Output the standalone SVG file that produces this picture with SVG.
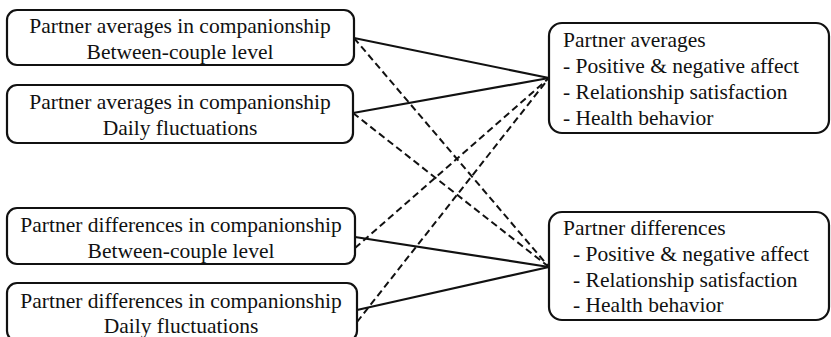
<svg xmlns="http://www.w3.org/2000/svg" width="831" height="337" viewBox="0 0 831 337">
<style>
.box{fill:#fff;stroke:#111;stroke-width:2.2}
.t{font-family:"Liberation Serif","Times New Roman",serif;font-size:21.5px;fill:#111}
.c{text-anchor:middle}
.solid{stroke:#111;stroke-width:2.2;fill:none}
.dash{stroke:#111;stroke-width:2;fill:none;stroke-dasharray:7 4}
</style>
<rect width="831" height="337" fill="#fff"/>
<g id="connectors">
<line class="solid" x1="354" y1="38" x2="549" y2="78"/>
<line class="dash" x1="354" y1="38" x2="549" y2="267"/>
<line class="solid" x1="353" y1="113" x2="549" y2="78"/>
<line class="dash" x1="353" y1="113" x2="549" y2="267"/>
<line class="solid" x1="355" y1="237" x2="549" y2="267"/>
<line class="dash" x1="355" y1="248" x2="549" y2="78"/>
<line class="solid" x1="357" y1="310" x2="549" y2="267"/>
<line class="dash" x1="357" y1="322" x2="549" y2="78"/>
</g>
<g id="n1">
<rect class="box" x="7" y="10" width="347" height="55" rx="10"/>
<text class="t c" x="180" y="33">Partner averages in companionship</text>
<text class="t c" x="180" y="59">Between-couple level</text>
</g>
<g id="n2">
<rect class="box" x="7" y="85" width="346" height="58" rx="10"/>
<text class="t c" x="180" y="109">Partner averages in companionship</text>
<text class="t c" x="180" y="135">Daily fluctuations</text>
</g>
<g id="n3">
<rect class="box" x="7" y="208" width="348" height="56" rx="10"/>
<text class="t c" x="181" y="232">Partner differences in companionship</text>
<text class="t c" x="181" y="258">Between-couple level</text>
</g>
<g id="n4">
<rect class="box" x="7" y="283" width="350" height="58" rx="10"/>
<text class="t c" x="181" y="308">Partner differences in companionship</text>
<text class="t c" x="181" y="333">Daily fluctuations</text>
</g>
<g id="n5">
<rect class="box" x="549" y="23" width="280" height="110" rx="13"/>
<text class="t" x="563" y="47">Partner averages</text>
<text class="t" x="563" y="73">- Positive &amp; negative affect</text>
<text class="t" x="563" y="99">- Relationship satisfaction</text>
<text class="t" x="563" y="125">- Health behavior</text>
</g>
<g id="n6">
<rect class="box" x="549" y="212" width="280" height="108" rx="13"/>
<text class="t" x="563" y="235">Partner differences</text>
<text class="t" x="573" y="261">- Positive &amp; negative affect</text>
<text class="t" x="573" y="287">- Relationship satisfaction</text>
<text class="t" x="573" y="312">- Health behavior</text>
</g>
</svg>
